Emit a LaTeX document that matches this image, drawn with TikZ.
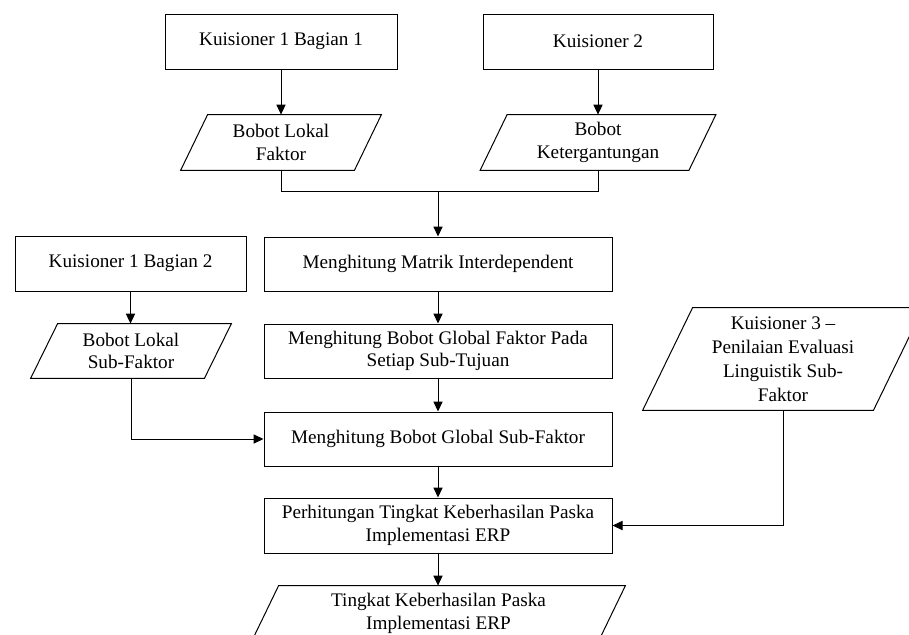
\documentclass[tikz,border=0pt]{standalone}
\usepackage{fontspec}
\setmainfont{Liberation Serif}
\usetikzlibrary{arrows.meta}
\newcommand\drawpara[2]{%
  \draw[line width=0.5pt] ([xshift=#2]#1.north west) -- ([xshift=#2]#1.north east)
    -- ([xshift=-#2]#1.south east) -- ([xshift=-#2]#1.south west) -- cycle;}
\begin{document}
\begin{tikzpicture}[x=0.5pt,y=-0.5pt,
  every node/.style={font=\fontsize{9.6}{11.2}\selectfont, align=center, inner sep=0pt},
  procbox/.style={draw, line width=0.5pt, minimum height=27.5pt},
  iobox/.style={minimum height=27.5pt},
  arr/.style={line width=0.5pt, -{Triangle[length=5pt,width=4.6pt]}},
  ln/.style={line width=0.5pt}]
\useasboundingbox (0,0) rectangle (909,634);
\fill[white] (0,0) rectangle (909,634);
\clip (0,0) rectangle (909,634);

\node[procbox, minimum width=116pt] (k11) at (281,41.5) {Kuisioner 1 Bagian 1};
\node[procbox, minimum width=115pt] (k2) at (598,41.5) {Kuisioner 2};
\node[iobox, minimum width=86.5pt] (blf) at (281,142.5) {Bobot Lokal\\Faktor};
\node[iobox, minimum width=104pt] (bk) at (598,142.5) {Bobot\\Ketergantungan};
\coordinate (merge) at (438,191);
\node[procbox, minimum width=174pt, minimum height=27pt] (mat) at (438,264) {Menghitung Matrik Interdependent};
\node[procbox, minimum width=115.5pt] (k12) at (130.5,263.5) {Kuisioner 1 Bagian 2};
\node[iobox, minimum width=86.5pt, minimum height=27pt] (blsf) at (131,351) {Bobot Lokal\\Sub-Faktor};
\node[procbox, minimum width=174pt, minimum height=27pt] (glob) at (438,351) {Menghitung Bobot Global Faktor Pada\\Setiap Sub-Tujuan};
\node[procbox, minimum width=174pt, minimum height=27pt] (subf) at (438,439) {Menghitung Bobot Global Sub-Faktor};
\node[procbox, minimum width=174pt] (perh) at (438,525.5) {Perhitungan Tingkat Keberhasilan Paska\\Implementasi ERP};
\node[iobox, minimum width=173pt] (fin) at (438.5,613.5) {Tingkat Keberhasilan Paska\\Implementasi ERP};
\node[iobox, minimum width=115pt, minimum height=51pt, font=\fontsize{9.6}{12}\selectfont] (k3) at (783,359) {Kuisioner 3 –\\Penilaian Evaluasi\\Linguistik Sub-\\Faktor};

\drawpara{blf}{6.75pt}
\drawpara{bk}{6.75pt}
\drawpara{blsf}{6.75pt}
\drawpara{fin}{6.75pt}
\drawpara{k3}{12.5pt}

\draw[arr] (k11.south) -- (blf.north);
\draw[arr] (k2.south) -- (k2.south |- bk.north);
\draw[ln] (blf.south) |- (merge);
\draw[ln] (bk.south) |- (merge);
\draw[arr] (merge) -- (mat.north);
\draw[arr] (k12.south) -- (k12.south |- blsf.north);
\draw[arr] (mat.south) -- (glob.north);
\draw[arr] (glob.south) -- (subf.north);
\draw[arr] (subf.south) -- (perh.north);
\draw[arr] (perh.south) -- (perh.south |- fin.north);
\draw[arr] (blsf.south) |- (subf.west);
\draw[arr] (k3.south) |- (perh.east);
\end{tikzpicture}
\end{document}
